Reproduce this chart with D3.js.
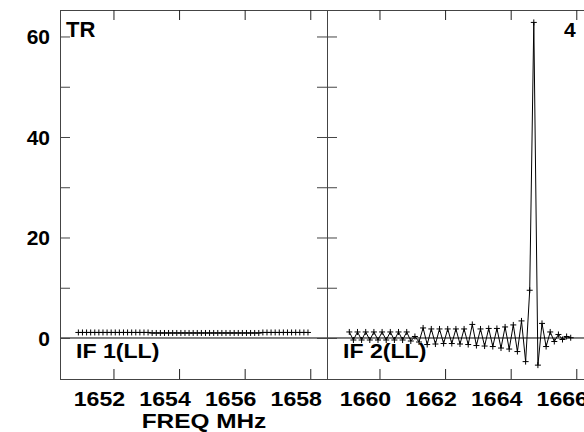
<!DOCTYPE html>
<html>
<head>
<meta charset="utf-8">
<script src="https://cdn.jsdelivr.net/npm/d3@7"></script>
<style>
  body { margin: 0; background: #fff; }
  text { font-family: "Liberation Sans", Arial, sans-serif; font-weight: bold; fill: #000; }
</style>
</head>
<body>
<div id="chart"></div>
<script>
// channel setup (MHz)
const chanWidth = 0.125;
const startFreq1 = 1650.93;
const startFreq2 = 1659.08;

// IF 1 amplitudes
const amp1 = [1.1, 1.1, 1.1, 1.1, 1.1, 1.1, 1.1, 1.1, 1.1, 1.1,
              1.1, 1.1, 1.1, 1.1, 1.1, 1.1, 1.1, 1.1, 1.0, 1.0,
              1.0, 1.0, 1.0, 1.0, 1.0, 1.0, 1.0, 1.0, 1.0, 1.0,
              1.0, 1.0, 1.0, 1.0, 1.0, 1.0, 1.0, 1.0, 1.0, 1.0,
              1.0, 1.0, 1.0, 1.0, 1.0, 1.1, 1.1, 1.1, 1.1, 1.1,
              1.1, 1.1, 1.1, 1.1, 1.1, 1.1, 1.1];

// IF 2 amplitudes
const amp2 = [1.2, -0.4, 1.2, -0.4, 1.2, -0.4, 1.2, -0.4, 1.2, -0.4,
              1.2, -0.4, 1.2, -0.4, 1.2, -0.6, 0.3, -0.8, 2.0, -1.3,
              1.8, -1.2, 1.8, -1.1, 1.8, -1.1, 1.8, -1.2, 1.8, -1.3,
              2.7, -1.5, 1.8, -1.6, 1.9, -1.7, 1.9, -2.0, 2.2, -2.2,
              2.6, -2.7, 3.4, -4.7, 9.5, 62.8, -5.4, 2.9, -1.7, 1.2,
              -0.7, 0.7, -0.3, 0.3, 0.05];

const yTicks = [0, 20, 40, 60];
const yMinor = [10, 30, 50];
const xTicks1 = [1652, 1654, 1656, 1658];
const xTicks2 = [1660, 1662, 1664, 1666];

const width = 584, height = 432;
const frameTop = 10, frameBottom = 379;
const tickLen = 10;

const svg = d3.select("#chart").append("svg")
    .attr("width", width)
    .attr("height", height);

const y = d3.scaleLinear().domain([-8.16, 65.27]).range([frameBottom, frameTop]);

const panels = [
    { x0: 60, x1: 327, domain: [1650.37, 1658.51], amps: amp1, f0: startFreq1, ticks: xTicks1, label: "IF 1(LL)" },
    { x0: 327, x1: 594, domain: [1658.40, 1666.54], amps: amp2, f0: startFreq2, ticks: xTicks2, label: "IF 2(LL)" }
];

// the original lettering is a bit wider than Arial
function stretch(sel, k) {
    sel.each(function () {
        const w = this.getComputedTextLength();
        d3.select(this).attr("textLength", w * k).attr("lengthAdjust", "spacingAndGlyphs");
    });
}

panels.forEach((p, pi) => {
    const x = d3.scaleLinear().domain(p.domain).range([p.x0, p.x1]);
    const g = svg.append("g");

    const pts = p.amps.map((v, i) => [x(p.f0 + i * chanWidth), y(v)]);

    // zero line
    g.append("line")
        .attr("x1", p.x0).attr("x2", p.x1)
        .attr("y1", y(0)).attr("y2", y(0))
        .attr("stroke", "#000").attr("stroke-width", 1);

    // data line + crosses
    g.append("path")
        .attr("d", d3.line()(pts))
        .attr("fill", "none")
        .attr("stroke", "#000")
        .attr("stroke-width", 1);

    g.append("path")
        .attr("d", pts.map(([px, py]) => `M${px - 3},${py}h6M${px},${py - 3}v6`).join(""))
        .attr("stroke", "#000")
        .attr("stroke-width", 1);

    // frame
    g.append("rect")
        .attr("x", p.x0 + 0.5).attr("y", frameTop + 0.5)
        .attr("width", p.x1 - p.x0).attr("height", frameBottom - frameTop)
        .attr("fill", "none")
        .attr("stroke", "#444")
        .attr("stroke-width", 1);

    // y ticks, inward on both sides
    const allY = yTicks.concat(yMinor);
    allY.forEach(t => {
        g.append("line")
            .attr("x1", p.x0).attr("x2", p.x0 + tickLen)
            .attr("y1", y(t) + 0.5).attr("y2", y(t) + 0.5)
            .attr("stroke", "#444");
        g.append("line")
            .attr("x1", p.x1 - tickLen).attr("x2", p.x1)
            .attr("y1", y(t) + 0.5).attr("y2", y(t) + 0.5)
            .attr("stroke", "#444");
    });

    // x ticks top and bottom
    p.ticks.forEach(t => {
        g.append("line")
            .attr("x1", x(t) + 0.5).attr("x2", x(t) + 0.5)
            .attr("y1", frameTop).attr("y2", frameTop + tickLen)
            .attr("stroke", "#222");
        g.append("line")
            .attr("x1", x(t) + 0.5).attr("x2", x(t) + 0.5)
            .attr("y1", frameBottom - tickLen).attr("y2", frameBottom)
            .attr("stroke", "#222");
    });

    const xl = g.selectAll(".xl").data(p.ticks).enter().append("text")
        .attr("x", d => x(d) - 14)
        .attr("y", 406)
        .attr("text-anchor", "middle")
        .attr("font-size", "21px")
        .text(d => d);
    stretch(xl, 1.1);

    const lab = g.append("text")
        .attr("x", p.x0 + 16)
        .attr("y", 358)
        .attr("font-size", "21px")
        .text(p.label);
    stretch(lab, 1.1);
});

// y axis labels
svg.selectAll(".yl").data(yTicks).enter().append("text")
    .attr("x", 50)
    .attr("y", d => y(d))
    .attr("dy", "0.36em")
    .attr("text-anchor", "end")
    .attr("font-size", "21px")
    .text(d => d);

const xt = svg.append("text")
    .attr("x", 204).attr("y", 428)
    .attr("text-anchor", "middle")
    .attr("font-size", "21px")
    .text("FREQ MHz");
stretch(xt, 1.16);

svg.append("text")
    .attr("x", 66).attr("y", 37)
    .attr("font-size", "22px")
    .text("TR");

svg.append("text")
    .attr("x", 564).attr("y", 37)
    .attr("font-size", "21px")
    .text("4");
</script>
</body>
</html>
